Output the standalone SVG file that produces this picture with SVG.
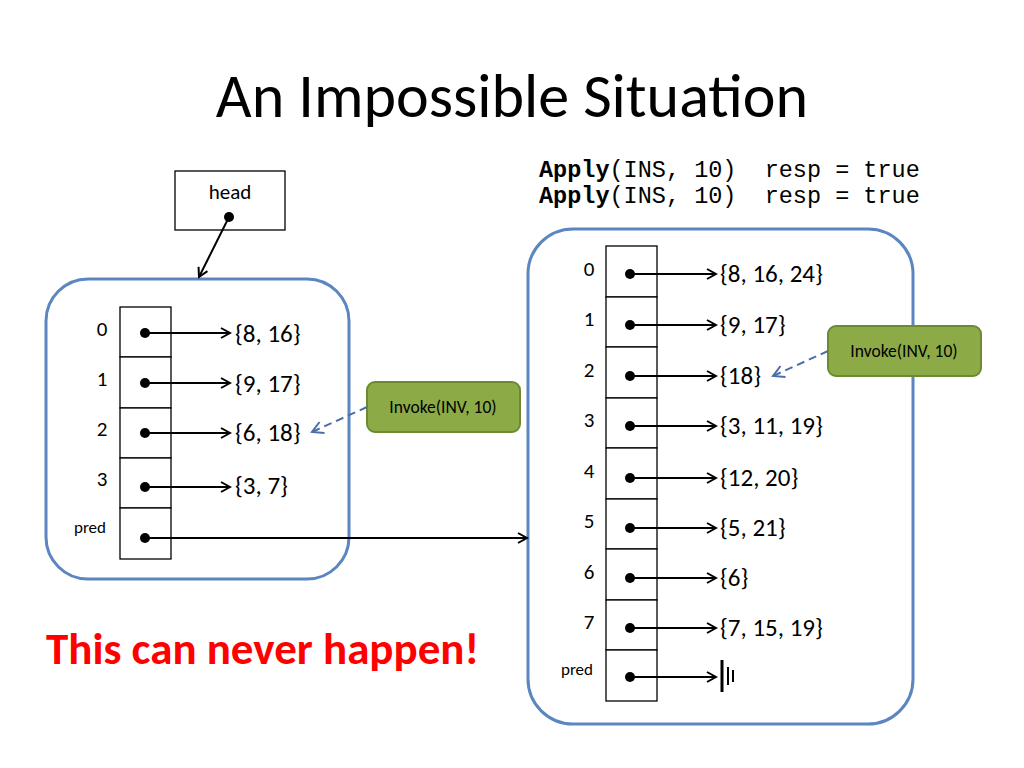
<svg xmlns="http://www.w3.org/2000/svg" width="1024" height="768" viewBox="0 0 1024 768">
<style>
text{font-family:Calibri,Carlito,"Liberation Sans",sans-serif;fill:#000}
.c{fill:#fff;stroke:#000;stroke-width:1.3}
.ln{stroke:#000;stroke-width:2;fill:none}
.box{fill:#fff;stroke:#5b86c0;stroke-width:3}
.inv{fill:#8cab47;stroke:#6b8a32;stroke-width:2}
.lbl{font-size:25px}
.idx{font-size:21px}
.mono{font-family:"Liberation Mono",monospace;font-size:23.5px;white-space:pre}
</style>
<defs>
<marker id="a" markerWidth="12" markerHeight="12" refX="10" refY="6" orient="auto" markerUnits="userSpaceOnUse"><path d="M1,1 L10,6 L1,11" fill="none" stroke="#000" stroke-width="2"/></marker>
<marker id="b" markerWidth="14" markerHeight="14" refX="12" refY="7" orient="auto" markerUnits="userSpaceOnUse"><path d="M1,1 L12,7 L1,13" fill="none" stroke="#4a6fa5" stroke-width="2"/></marker>
</defs>
<rect width="1024" height="768" fill="#fff"/>
<text x="512" y="117" text-anchor="middle" font-size="62">An Impossible Situation</text>
<text x="539" y="177" class="mono" xml:space="preserve"><tspan font-weight="bold">Apply</tspan>(INS, 10)  resp = true</text>
<text x="539" y="203" class="mono" xml:space="preserve"><tspan font-weight="bold">Apply</tspan>(INS, 10)  resp = true</text>
<g id="head"><rect x="175" y="171" width="110" height="59" class="c"/><text x="230" y="199" text-anchor="middle" font-size="21">head</text></g>
<g id="leftbox"><rect x="46" y="279" width="303" height="300" rx="42" class="box"/>
<rect x="120" y="307" width="51" height="50" class="c"/><rect x="120" y="357" width="51" height="51" class="c"/><rect x="120" y="408" width="51" height="50" class="c"/><rect x="120" y="458" width="51" height="50" class="c"/><rect x="120" y="508" width="51" height="51" class="c"/>
<text x="102" y="336" text-anchor="middle" class="idx">0</text><text x="102" y="386" text-anchor="middle" class="idx">1</text><text x="102" y="436" text-anchor="middle" class="idx">2</text><text x="102" y="486" text-anchor="middle" class="idx">3</text><text x="90" y="533" text-anchor="middle" font-size="17">pred</text>
<text x="235" y="342" class="lbl">{8, 16}</text><text x="235" y="392" class="lbl">{9, 17}</text><text x="235" y="441" class="lbl">{6, 18}</text><text x="235" y="494" class="lbl">{3, 7}</text>
</g>
<g id="rightbox"><rect x="528" y="229" width="385" height="495" rx="45" class="box"/>
<rect x="606" y="246" width="51" height="51" class="c"/><rect x="606" y="297" width="51" height="50" class="c"/><rect x="606" y="347" width="51" height="51" class="c"/><rect x="606" y="398" width="51" height="50" class="c"/><rect x="606" y="448" width="51" height="51" class="c"/><rect x="606" y="499" width="51" height="50" class="c"/><rect x="606" y="549" width="51" height="51" class="c"/><rect x="606" y="600" width="51" height="50" class="c"/><rect x="606" y="650" width="51" height="51" class="c"/>
<text x="589" y="276" text-anchor="middle" class="idx">0</text><text x="589" y="326" text-anchor="middle" class="idx">1</text><text x="589" y="377" text-anchor="middle" class="idx">2</text><text x="589" y="427" text-anchor="middle" class="idx">3</text><text x="589" y="478" text-anchor="middle" class="idx">4</text><text x="589" y="528" text-anchor="middle" class="idx">5</text><text x="589" y="579" text-anchor="middle" class="idx">6</text><text x="589" y="629" text-anchor="middle" class="idx">7</text><text x="577" y="675" text-anchor="middle" font-size="17">pred</text>
<text x="720" y="282" class="lbl">{8, 16, 24}</text><text x="720" y="333" class="lbl">{9, 17}</text><text x="720" y="384" class="lbl">{18}</text><text x="720" y="434" class="lbl">{3, 11, 19}</text><text x="720" y="486" class="lbl">{12, 20}</text><text x="720" y="536" class="lbl">{5, 21}</text><text x="720" y="586" class="lbl">{6}</text><text x="720" y="636" class="lbl">{7, 15, 19}</text>
</g>
<g id="ground" class="ln"><line x1="722" y1="660" x2="722" y2="692" stroke-width="3"/><line x1="728" y1="667" x2="728" y2="685"/><line x1="733" y1="670" x2="733" y2="682"/></g>
<g id="invL"><rect x="367" y="382" width="153" height="50" rx="8" class="inv"/><text x="443" y="413" text-anchor="middle" font-size="17.5">Invoke(INV, 10)</text></g>
<g id="invR"><rect x="828" y="326" width="153" height="50" rx="8" class="inv"/><text x="904" y="357" text-anchor="middle" font-size="17.5">Invoke(INV, 10)</text></g>
<text x="46" y="664" font-size="45" font-weight="bold" style="fill:#ff0000">This can never happen!</text>
<g id="connectors">
<g fill="#000"><circle cx="229" cy="217" r="5"/><circle cx="145" cy="333" r="5"/><circle cx="145" cy="383" r="5"/><circle cx="145" cy="433" r="5"/><circle cx="145" cy="487" r="5"/><circle cx="145" cy="538" r="5"/>
<circle cx="630" cy="274" r="5"/><circle cx="630" cy="325" r="5"/><circle cx="630" cy="376" r="5"/><circle cx="630" cy="426" r="5"/><circle cx="630" cy="478" r="5"/><circle cx="630" cy="528" r="5"/><circle cx="630" cy="578" r="5"/><circle cx="630" cy="628" r="5"/><circle cx="630" cy="677" r="5"/></g>
<g class="ln" marker-end="url(#a)">
<line x1="229" y1="217" x2="199" y2="277"/>
<line x1="145" y1="333" x2="230" y2="333"/><line x1="145" y1="383" x2="230" y2="383"/><line x1="145" y1="433" x2="230" y2="433"/><line x1="145" y1="487" x2="230" y2="487"/><line x1="145" y1="538" x2="527" y2="538"/>
<line x1="630" y1="274" x2="716" y2="274"/><line x1="630" y1="325" x2="716" y2="325"/><line x1="630" y1="376" x2="716" y2="376"/><line x1="630" y1="426" x2="716" y2="426"/><line x1="630" y1="478" x2="716" y2="478"/><line x1="630" y1="528" x2="716" y2="528"/><line x1="630" y1="578" x2="716" y2="578"/><line x1="630" y1="628" x2="716" y2="628"/><line x1="630" y1="677" x2="716" y2="677"/>
</g>
<g fill="none" stroke="#4a6fa5" stroke-width="2" stroke-dasharray="8,5" marker-end="url(#b)">
<line x1="367" y1="407" x2="312" y2="432"/><line x1="828" y1="351" x2="773" y2="376"/>
</g>
</g>
</svg>
